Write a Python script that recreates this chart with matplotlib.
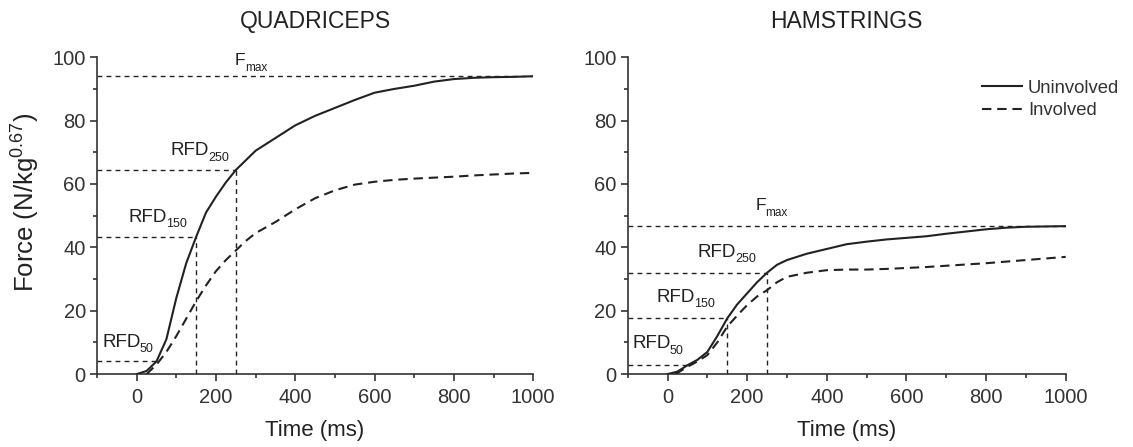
import matplotlib
matplotlib.use("Agg")
import matplotlib.pyplot as plt
import numpy as np
from matplotlib.ticker import MultipleLocator

plt.rcParams['font.family'] = ['Liberation Sans', 'DejaVu Sans']
plt.rcParams['mathtext.fontset'] = 'custom'
plt.rcParams['mathtext.rm'] = 'Liberation Sans'
plt.rcParams['mathtext.it'] = 'Liberation Sans'

# ---- data ----
t_q_uninv = [0, 25, 50, 75, 100, 125, 150, 175, 200, 225, 250, 300, 350, 400, 450, 500, 550,
             600, 650, 700, 750, 800, 850, 900, 950, 1000]
f_q_uninv = [0, 1, 4, 11, 24, 35, 43.3, 51, 56, 60.5, 64.4, 70.5, 74.5, 78.5, 81.5, 84, 86.5,
             88.8, 90, 91, 92.3, 93.1, 93.5, 93.7, 93.8, 94.0]
t_q_inv = [25, 50, 75, 100, 125, 150, 175, 200, 225, 250, 275, 300, 350, 400, 450, 500, 550,
           600, 650, 700, 750, 800, 850, 900, 950, 1000]
f_q_inv = [0, 3, 7, 12, 17.5, 23, 28, 32.5, 36, 39, 42, 44.5, 48, 52, 55.5, 58, 59.8,
           60.7, 61.3, 61.7, 62, 62.3, 62.7, 63, 63.3, 63.5]

t_h_uninv = [0, 25, 50, 75, 100, 125, 150, 175, 200, 225, 250, 275, 300, 350, 400, 450, 500,
             550, 600, 650, 700, 750, 800, 850, 900, 950, 1000]
f_h_uninv = [0, 0.8, 2.8, 4.5, 7, 12, 17.6, 22, 25.5, 29, 32, 34.5, 36, 38, 39.5, 41, 41.8,
             42.5, 43, 43.5, 44.3, 45, 45.7, 46.2, 46.5, 46.6, 46.7]
t_h_inv = [20, 50, 75, 100, 125, 150, 175, 200, 225, 250, 275, 300, 350, 400, 450, 500, 550,
           600, 650, 700, 750, 800, 850, 900, 950, 1000]
f_h_inv = [0, 2.3, 4, 6, 10, 15, 18.5, 21.8, 24.5, 26.5, 29, 30.7, 32, 32.8, 33, 33, 33.2,
           33.5, 33.8, 34.2, 34.6, 35, 35.5, 36, 36.5, 37]

# reference levels: RFD50, RFD150, RFD250, Fmax
q_levels = [4.0, 43.3, 64.4, 94.0]
h_levels = [2.8, 17.6, 32.0, 46.7]
rfd_times = [50, 150, 250]

titles = ["QUADRICEPS", "HAMSTRINGS"]
xticks = [0, 200, 400, 600, 800, 1000]
yticks = [0, 20, 40, 60, 80, 100]

# label anchor positions (data coords, baseline of main text)
q_lab = {"F": (248, 97.5), "250": (86, 69.0), "150": (-20, 48.0), "50": (-87, 8.6)}
h_lab = {"F": (221, 51.7), "250": (76, 37.0), "150": (-28, 22.8), "50": (-89, 8.1)}

col = "#222222"
fig = plt.figure(figsize=(11.33, 4.47), dpi=100)
ax1 = fig.add_axes([0.0856, 0.163, 0.385, 0.709])
ax2 = fig.add_axes([0.554, 0.163, 0.3866, 0.709])


def label(ax, xy, main, sub, fs_main, fs_sub, drop):
    tm = ax.text(xy[0], xy[1], main, fontsize=fs_main, color=col, va="baseline", ha="left")
    ax.annotate(sub, xy=(1, 0), xycoords=tm, xytext=(-0.5, drop), textcoords="offset points",
                fontsize=fs_sub, color=col, va="baseline", ha="left")


def draw(ax, tu, fu, ti, fi, levels, labs, title, legend=False):
    ax.plot(tu, fu, color=col, lw=1.5, label="Uninvolved", zorder=3)
    ax.plot(ti, fi, color=col, lw=1.5, ls=(0, (4.5, 2.8)), label="Involved", zorder=3)
    dref = dict(color=col, lw=1.0, ls=(0, (3.5, 3.0)), zorder=2)
    for tt, lv in zip(rfd_times, levels[:3]):
        ax.plot([-100, tt], [lv, lv], **dref)
    ax.plot([-100, 1000], [levels[3], levels[3]], **dref)
    for tt, lv in zip(rfd_times[1:], levels[1:3]):
        ax.plot([tt, tt], [0, lv], **dref)
    label(ax, labs["F"], "F", "max", 12.5, 8.5, -2)
    label(ax, labs["250"], "RFD", "250", 13.5, 9, -1)
    label(ax, labs["150"], "RFD", "150", 13.5, 9, -1)
    label(ax, labs["50"], "RFD", "50", 13.5, 9, -1)
    ax.set_xlim(-100, 1000)
    ax.set_ylim(0, 100)
    ax.set_xticks(xticks)
    ax.set_yticks(yticks)
    ax.xaxis.set_minor_locator(MultipleLocator(100))
    ax.yaxis.set_minor_locator(MultipleLocator(10))
    ax.tick_params(which="both", direction="out", colors="#333333", labelsize=14.5, width=1.2)
    ax.tick_params(which="major", length=5)
    ax.tick_params(which="minor", length=3)
    ax.tick_params(axis="x", pad=5)
    ax.tick_params(axis="y", pad=3)
    for s in ["top", "right"]:
        ax.spines[s].set_visible(False)
    for s in ["left", "bottom"]:
        ax.spines[s].set_color("#333333")
        ax.spines[s].set_linewidth(1.2)
    ax.set_xlabel("Time (ms)", fontsize=16, color=col, labelpad=9)
    ax.set_title(title, fontsize=16.5, color=col, pad=21)
    if legend:
        ax.legend(loc="center left", bbox_to_anchor=(0.80, 0.866), frameon=False,
                  borderaxespad=0, borderpad=0.2,
                  fontsize=13.3, handlelength=2.2, handletextpad=0.3, labelspacing=0.3,
                  labelcolor="#333333")


draw(ax1, t_q_uninv, f_q_uninv, t_q_inv, f_q_inv, q_levels, q_lab, titles[0])
draw(ax2, t_h_uninv, f_h_uninv, t_h_inv, f_h_inv, h_levels, h_lab, titles[1], legend=True)
ax1.set_ylabel(r"Force (N/kg$^{0.67}$)", fontsize=18.5, color=col)
ax1.yaxis.set_label_coords(-0.127, 0.543)

fig.savefig("out.png", dpi=100)
